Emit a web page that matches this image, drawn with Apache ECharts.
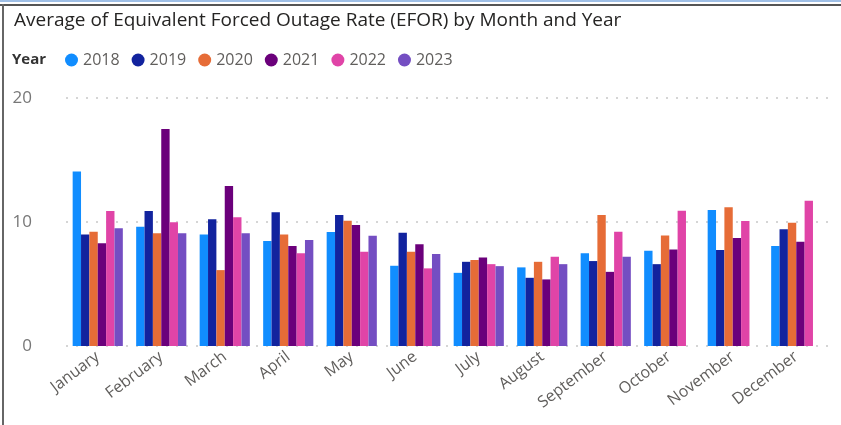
<!DOCTYPE html>
<html>
<head>
<meta charset="utf-8">
<script src="https://cdn.jsdelivr.net/npm/echarts@6/dist/echarts.min.js"></script>
<style>
html,body{margin:0;padding:0;background:#fff;}
#c{width:841px;height:425px;}
</style>
</head>
<body>
<div id="c"></div>
<script>
const months = ["January","February","March","April","May","June","July","August","September","October","November","December"];
const years = ["2018","2019","2020","2021","2022","2023"];
const yTicks = [0, 10, 20];
const v2018 = [14.07, 9.62, 9.0, 8.46, 9.19, 6.47, 5.9, 6.34, 7.47, 7.68, 10.97, 8.06];
const v2019 = [9.0, 10.89, 10.22, 10.78, 10.57, 9.14, 6.79, 5.5, 6.85, 6.6, 7.74, 9.41];
const v2020 = [9.22, 9.09, 6.12, 9.0, 10.11, 7.6, 6.93, 6.79, 10.57, 8.92, 11.19, 9.94];
const v2021 = [8.28, 17.49, 12.91, 8.06, 9.76, 8.2, 7.14, 5.37, 5.98, 7.79, 8.71, 8.41];
const v2022 = [10.89, 9.97, 10.38, 7.47, 7.6, 6.26, 6.6, 7.2, 9.22, 10.91, 10.08, 11.72];
const v2023 = [9.49, 9.09, 9.09, 8.54, 8.89, 7.41, 6.44, 6.6, 7.2, null, null, null];
const colors = ["#118DFF","#12239E","#E66C37","#6B007B","#E044A7","#744EC2"];
const seriesValues = [v2018, v2019, v2020, v2021, v2022, v2023];
const FONT = "'Open Sans', 'Noto Sans', sans-serif";

const chart = echarts.init(document.getElementById('c'), null, {renderer:'canvas'});
chart.setOption({
  animation: false,
  backgroundColor: '#fff',
  color: colors,
  title: {
    text: 'Average of Equivalent Forced Outage Rate (EFOR) by Month and Year',
    left: 9, top: 6,
    textStyle: {fontFamily: FONT, fontSize: 19, fontWeight: 'normal', color: '#252423'}
  },
  graphic: [
    {type:'rect', shape:{x:0,y:0,width:841,height:2}, style:{fill:'#9fbfe6'}},
    {type:'rect', shape:{x:0,y:4,width:841,height:2}, style:{fill:'#555'}},
    {type:'rect', shape:{x:2,y:4,width:2,height:421}, style:{fill:'#666'}},
    {type:'text', left: 12, top: 52, style:{text:'Year', fontFamily: FONT, fontSize: 15, fontWeight:'bold', fill:'#333'}}
  ],
  legend: {
    data: years,
    left: 60, top: 47,
    icon: 'circle',
    itemWidth: 13, itemHeight: 13,
    itemGap: 12,
    textStyle: {fontFamily: FONT, fontSize: 16, color: '#605E5C'}
  },
  grid: {left: 66, right: 13, top: 98, bottom: 79, containLabel: false},
  xAxis: {
    type: 'category',
    data: months,
    axisLine: {show: false},
    axisTick: {show: false},
    axisLabel: {rotate: 37, fontFamily: FONT, fontSize: 16, color: '#605E5C', margin: 9, interval: 0}
  },
  yAxis: {
    type: 'value',
    min: yTicks[0], max: yTicks[yTicks.length-1], interval: yTicks[1]-yTicks[0],
    axisLabel: {fontFamily: FONT, fontSize: 17, color: '#777', margin: 34, align: 'right'},
    splitLine: {lineStyle: {type: [2, 8], color: '#c8c8c8', width: 1.5}},
    axisLine: {show: false}, axisTick: {show: false}
  },
  series: years.map((y, i) => ({
    name: y,
    type: 'bar',
    data: seriesValues[i],
    barGap: '0%',
    barCategoryGap: '21%'
  }))
});
</script>
</body>
</html>
